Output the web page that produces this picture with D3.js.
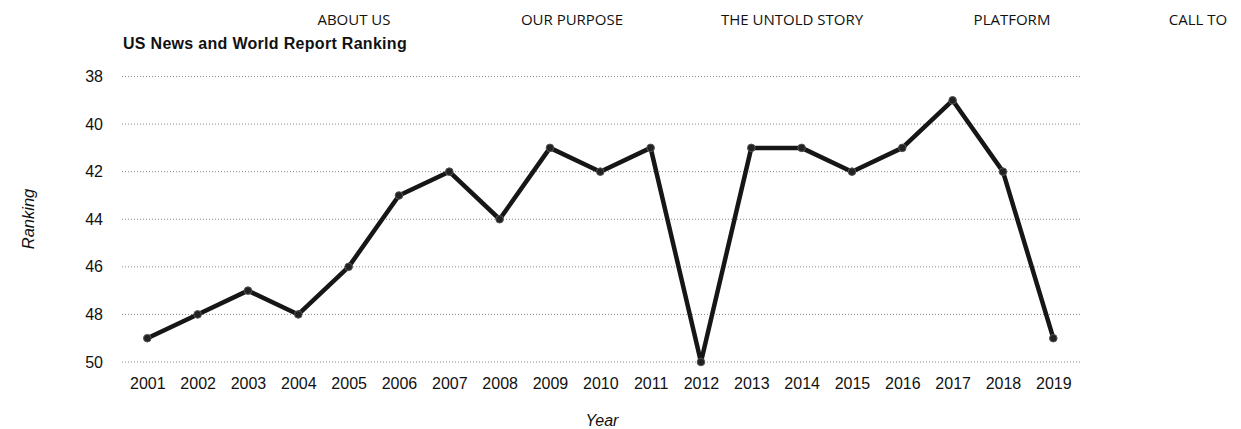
<!DOCTYPE html>
<html><head><meta charset="utf-8">
<script src="https://cdn.jsdelivr.net/npm/d3@7"></script>
<style>body{margin:0;background:#fff}svg{display:block}</style>
</head><body>
<svg id="c" width="1241" height="429"></svg>
<script>
const years = ["2001","2002","2003","2004","2005","2006","2007","2008","2009","2010","2011","2012","2013","2014","2015","2016","2017","2018","2019"];
const rankings = [49,48,47,48,46,43,42,44,41,42,41,50,41,41,42,41,39,42,49];
const yTicks = [38,40,42,44,46,48,50];
const navItems = ["ABOUT US","OUR PURPOSE","THE UNTOLD STORY","PLATFORM","CALL TO"];
const navX = [354,572,792,1012,1198];

const svg = d3.select("#c");
const x = d3.scalePoint().domain(years).range([147.3,1053.3]);
const y = d3.scaleLinear().domain([38,50]).range([76.5,362]);
const sans = "'Liberation Sans',Arial,sans-serif";

// nav
svg.selectAll("text.nav").data(navItems).join("text")
  .attr("class","nav").attr("x",(d,i)=>navX[i]).attr("y",25)
  .attr("text-anchor","middle").attr("font-family","'Open Sans',sans-serif")
  .attr("font-size",15).attr("fill","#111").text(d=>d);

svg.append("text").attr("x",123).attr("y",48.5)
  .attr("font-family",sans).attr("font-weight","bold")
  .attr("font-size",16).attr("letter-spacing",0.3).attr("fill","#111").text("US News and World Report Ranking");

// grid
svg.append("g").selectAll("line").data(yTicks).join("line")
  .attr("x1",122).attr("x2",1080).attr("y1",d=>y(d)).attr("y2",d=>y(d))
  .attr("stroke","#888").attr("stroke-width",1).attr("stroke-dasharray","1,2");

// y axis
const yAxis = d3.axisLeft(y).tickValues(yTicks).tickSize(0).tickPadding(0);
const gy = svg.append("g").attr("transform","translate(103,0)").call(yAxis);
gy.select(".domain").remove();
gy.selectAll("text").attr("font-family",sans).attr("font-size",16).attr("fill","#111");

// x axis
const xAxis = d3.axisBottom(x).tickSize(0).tickPadding(0);
const gx = svg.append("g").attr("transform","translate(0,389)").call(xAxis);
gx.select(".domain").remove();
gx.selectAll("text").attr("font-family",sans).attr("font-size",16).attr("fill","#111").attr("dy",0);

// axis titles
svg.append("text").attr("x",602).attr("y",426).attr("text-anchor","middle")
  .attr("font-family",sans).attr("font-style","italic")
  .attr("font-size",16).attr("fill","#111").text("Year");
svg.append("text").attr("transform","translate(34,219) rotate(-90)").attr("text-anchor","middle")
  .attr("font-family",sans).attr("font-style","italic")
  .attr("font-size",16.5).attr("fill","#111").text("Ranking");

// line
const data = years.map((yr,i)=>({yr, v:rankings[i]}));
svg.append("path").datum(data)
  .attr("d", d3.line().x(d=>x(d.yr)).y(d=>y(d.v)))
  .attr("fill","none").attr("stroke","#161616").attr("stroke-width",4.5).attr("stroke-linejoin","round");
svg.append("g").selectAll("circle").data(data).join("circle")
  .attr("cx",d=>x(d.yr)).attr("cy",d=>y(d.v)).attr("r",3.8)
  .attr("fill","#222").attr("stroke","#555").attr("stroke-width",1);
</script>
</body></html>
